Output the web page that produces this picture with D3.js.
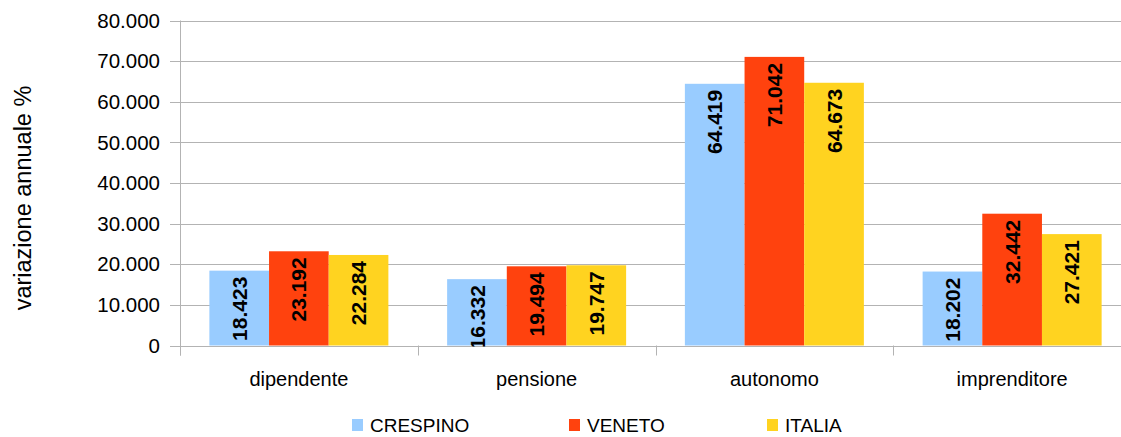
<!DOCTYPE html>
<html lang="it">
<head>
    <meta charset="UTF-8">
    <script src="https://d3js.org/d3.v7.min.js"></script>
    <style>
        body { margin: 0; background: #ffffff; }
        text { font-family: "Liberation Sans", Arial, sans-serif; fill: #000; }
        .grid line { stroke: #b3b3b3; stroke-width: 1px; }
    </style>
</head>
<body>
<script>
    const categories = ['dipendente', 'pensione', 'autonomo', 'imprenditore'];
    const series = ['CRESPINO', 'VENETO', 'ITALIA'];
    const crespino = [18.423, 16.332, 64.419, 18.202];
    const veneto = [23.192, 19.494, 71.042, 32.442];
    const italia = [22.284, 19.747, 64.673, 27.421];
    const yTicks = [0, 10, 20, 30, 40, 50, 60, 70, 80];
    const colors = ['#99ccff', '#ff420e', '#ffd320'];

    const width = 1121;
    const height = 437;
    const plotLeft = 180, plotRight = 1131, plotTop = 20.5, plotBottom = 345.5;

    const values = [crespino, veneto, italia];
    const rows = [];
    categories.forEach((c, i) => {
        series.forEach((s, j) => rows.push({cat: c, ser: s, val: values[j][i]}));
    });

    const svg = d3.select('body').append('svg')
        .attr('width', width)
        .attr('height', height);

    const x0 = d3.scaleBand().domain(categories).range([plotLeft, plotRight]);
    const groupPad = (x0.bandwidth() - 179) / 2;
    const x1 = d3.scaleBand().domain(series).range([groupPad, groupPad + 179]);
    const y = d3.scaleLinear().domain([0, 80]).range([plotBottom, plotTop]);
    const color = d3.scaleOrdinal().domain(series).range(colors);

    // gridlines + y ticks
    const grid = svg.append('g').attr('class', 'grid');
    grid.selectAll('line.yt')
        .data(yTicks)
        .enter().append('line')
        .attr('class', 'yt')
        .attr('x1', plotLeft - 10)
        .attr('x2', width)
        .attr('y1', d => Math.round(y(d)) + 0.5)
        .attr('y2', d => Math.round(y(d)) + 0.5);

    // x ticks at category boundaries
    const bounds = categories.map(c => x0(c)).concat([plotRight]);
    grid.selectAll('line.xt')
        .data(bounds)
        .enter().append('line')
        .attr('class', 'xt')
        .attr('x1', d => Math.round(d) + 0.5)
        .attr('x2', d => Math.round(d) + 0.5)
        .attr('y1', plotBottom)
        .attr('y2', plotBottom + 10);
    grid.append('line')
        .attr('x1', plotLeft + 0.5).attr('x2', plotLeft + 0.5)
        .attr('y1', plotTop).attr('y2', plotBottom + 10);

    svg.append('g').selectAll('text')
        .data(yTicks)
        .enter().append('text')
        .attr('x', 160)
        .attr('y', d => y(d))
        .attr('dy', '0.35em')
        .attr('text-anchor', 'end')
        .style('font-size', '20.5px')
        .text(d => d === 0 ? '0' : d3.format('.3f')(d));

    svg.append('text')
        .attr('transform', 'translate(31,198) rotate(-90)')
        .attr('text-anchor', 'middle')
        .style('font-size', '23.5px')
        .text('variazione annuale %');

    svg.append('g').selectAll('text')
        .data(categories)
        .enter().append('text')
        .attr('x', d => x0(d) + x0.bandwidth() / 2)
        .attr('y', 386)
        .attr('text-anchor', 'middle')
        .style('font-size', '20px')
        .text(d => d);

    // bars
    svg.append('g').selectAll('rect')
        .data(rows)
        .enter().append('rect')
        .attr('x', d => x0(d.cat) + x1(d.ser))
        .attr('y', d => y(d.val))
        .attr('width', x1.bandwidth())
        .attr('height', d => y(0) - y(d.val))
        .attr('fill', d => color(d.ser));

    svg.append('clipPath').attr('id', 'plotclip')
        .append('rect')
        .attr('x', plotLeft).attr('y', 0)
        .attr('width', width - plotLeft).attr('height', plotBottom + 1);

    svg.append('g').attr('clip-path', 'url(#plotclip)')
        .selectAll('text')
        .data(rows)
        .enter().append('text')
        .attr('transform', d => 'translate(' + (x0(d.cat) + x1(d.ser) + x1.bandwidth() / 2) + ',' + (y(d.val) + 6) + ') rotate(-90)')
        .attr('dy', '0.36em')
        .attr('text-anchor', 'end')
        .style('font-size', '21px')
        .style('font-weight', 'bold')
        .text(d => d3.format('.3f')(d.val));

    // legend
    const legendX = [352, 569, 767];
    const legend = svg.append('g').selectAll('g')
        .data(series)
        .enter().append('g')
        .attr('transform', (d, i) => 'translate(' + legendX[i] + ',419)');
    legend.append('rect')
        .attr('width', 11).attr('height', 12)
        .attr('fill', d => color(d));
    legend.append('text')
        .attr('x', 18).attr('y', 6)
        .attr('dy', '0.36em')
        .style('font-size', '19px')
        .text(d => d);
</script>
</body>
</html>
